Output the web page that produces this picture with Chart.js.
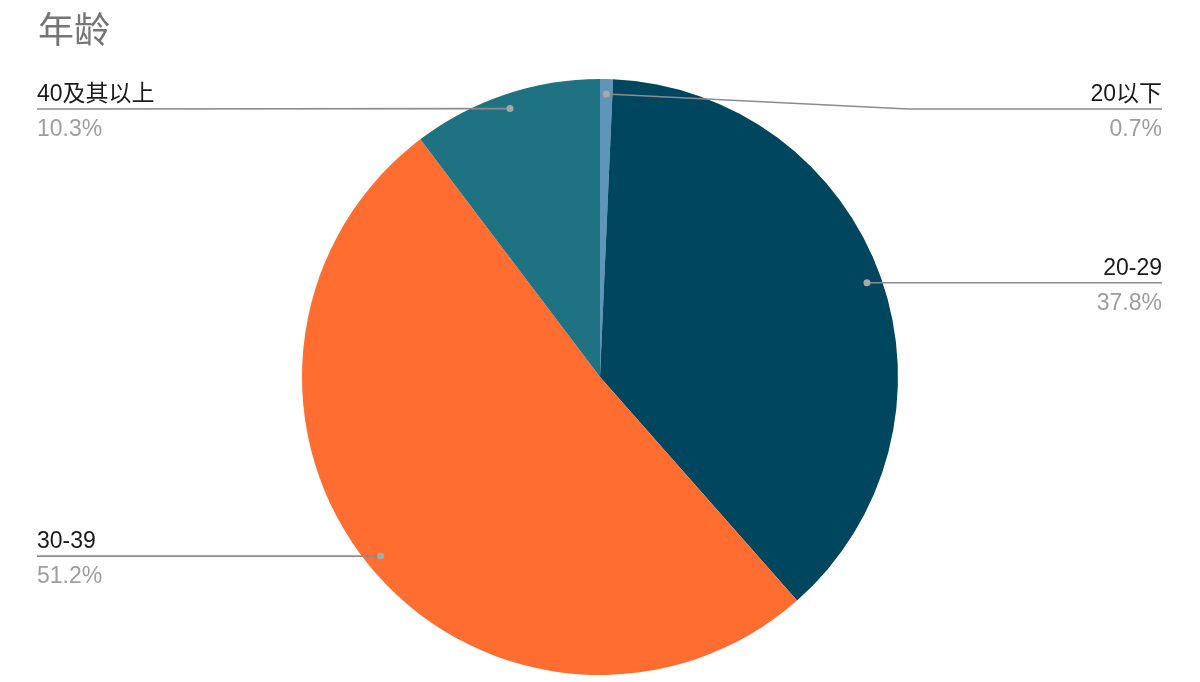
<!DOCTYPE html>
<html>
<head>
<meta charset="utf-8">
<script src="https://cdn.jsdelivr.net/npm/chart.js@4/dist/chart.umd.min.js"></script>
<style>
  html, body { margin: 0; padding: 0; background: #fff; }
  #wrap { width: 1200px; height: 682px; position: relative; }
</style>
</head>
<body>
<div id="wrap"><canvas id="ageChart" width="1200" height="682"></canvas></div>
<script>
const chartTitle = '年龄';
const ageGroups = ['20以下', '20-29', '30-39', '40及其以上'];
const sharePercent = [0.7, 37.8, 51.2, 10.3];
const sliceColors = ['#5f95b9', '#01465f', '#ff6d31', '#1e7282'];

const labelFont = '23px "Liberation Sans", Arial, "Noto Sans CJK SC", sans-serif';

// leader lines + labels, the way Sheets puts them next to the pie
const sideLabels = {
    id: 'sideLabels',
    afterDatasetsDraw(chart) {
        const ctx = chart.ctx;
        const meta = chart.getDatasetMeta(0);
        meta.data.forEach((arc, i) => {
            const p = arc.getProps(['x', 'y', 'startAngle', 'endAngle', 'outerRadius'], true);
            const mid = (p.startAngle + p.endAngle) / 2;
            const dotX = p.x + Math.cos(mid) * p.outerRadius * 0.95;
            const dotY = p.y + Math.sin(mid) * p.outerRadius * 0.95;
            const right = Math.cos(mid) >= 0;
            const lineY = Math.max(dotY, 109);
            const edgeX = right ? 1162 : 37;

            ctx.save();
            ctx.strokeStyle = '#8c8c8c';
            ctx.lineWidth = 1.6;
            ctx.beginPath();
            ctx.moveTo(dotX, dotY);
            if (Math.abs(lineY - dotY) > 0.5) {
                const elbowX = right ? p.x + p.outerRadius + 10 : p.x - p.outerRadius - 10;
                ctx.lineTo(elbowX, lineY);
            }
            ctx.lineTo(edgeX, lineY);
            ctx.stroke();

            ctx.fillStyle = '#a8a8a8';
            ctx.beginPath();
            ctx.arc(dotX, dotY, 3.5, 0, Math.PI * 2);
            ctx.fill();

            ctx.font = labelFont;
            ctx.textAlign = right ? 'right' : 'left';
            ctx.textBaseline = 'alphabetic';
            ctx.fillStyle = '#1a1a1a';
            ctx.fillText(ageGroups[i], edgeX, lineY - 8);
            ctx.fillStyle = '#9e9e9e';
            ctx.fillText(sharePercent[i].toFixed(1) + '%', edgeX, lineY + 27);
            ctx.restore();
        });
    }
};

const ctx = document.getElementById('ageChart').getContext('2d');
new Chart(ctx, {
    type: 'pie',
    data: {
        labels: ageGroups,
        datasets: [{
            data: sharePercent,
            backgroundColor: sliceColors,
            borderWidth: 0,
            hoverOffset: 0
        }]
    },
    options: {
        responsive: false,
        animation: false,
        radius: 298,
        layout: { padding: { left: 38, right: 38, top: 0, bottom: 7 } },
        plugins: {
            legend: { display: false },
            tooltip: { enabled: false },
            title: {
                display: true,
                text: chartTitle,
                align: 'start',
                color: '#757575',
                font: { family: '"Noto Sans CJK SC", sans-serif', size: 36, weight: 'normal', lineHeight: 1.2 },
                padding: { top: 8, bottom: 27.8 }
            }
        }
    },
    plugins: [sideLabels]
});
</script>
</body>
</html>
